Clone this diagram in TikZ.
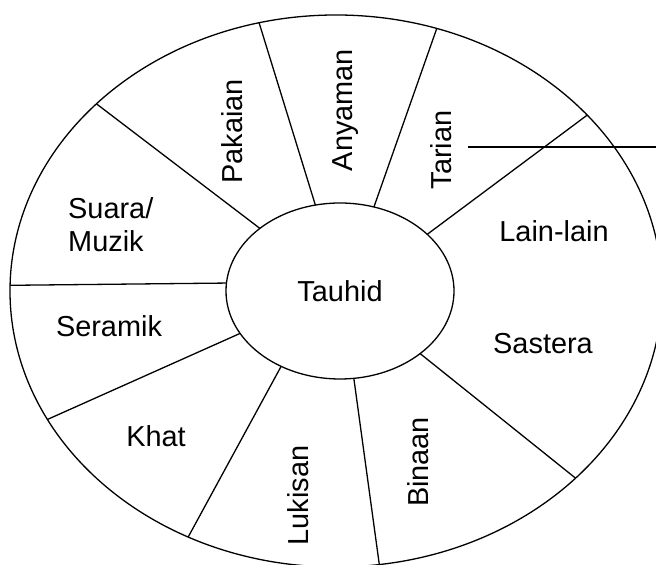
\documentclass[tikz,border=0pt]{standalone}
\usepackage{fontspec}
\setmainfont{Liberation Sans}
\usetikzlibrary{shapes.geometric}
\definecolor{wheelInk}{RGB}{0,0,0}
\begin{document}
\begin{tikzpicture}[x=1bp,y=1bp,
      rim/.style={draw=wheelInk, ellipse, line width=1.3bp,
        inner sep=0pt, outer sep=0pt},
      spoke/.style={draw=wheelInk, line width=1.3bp},
      art/.style={font=\fontsize{29}{33}\selectfont,
        text=wheelInk, inner sep=0pt},
      upright/.style={art, rotate=90}]
      \useasboundingbox (0,0) rectangle (656,565);
      \clip (0,0) rectangle (656,565);

      \node[rim, minimum width=652bp, minimum height=552bp] (wheel)
        at (336,274) {};
      \node[rim, art, minimum width=228bp, minimum height=176bp] (tauhid)
        at (340,274) {Tauhid};

      % spokes: inner angle / outer angle
      \foreach \a/\b in {106.6/106.5, 68.9/69.7, 33.2/35.5,
          322.7/322.5, 279.7/279.5, 232.1/239.5,
          203.1/204.9, 176/179.3, 142/142.3}{
        \draw[spoke] (tauhid.\a) -- (wheel.\b);}

      \node[upright] (pakaian) at (232,433.5) {Pakaian};
      \node[upright] (anyaman) at (346,455) {Anyaman};
      \node[upright] (tarian) at (441,415) {Tarian};
      \node[art] (lainlain) at (554,334) {Lain-lain};
      \node[art] (sastera) at (543,221) {Sastera};
      \node[upright] (binaan) at (418,103) {Binaan};
      \node[upright] (lukisan) at (298,69.5) {Lukisan};
      \node[art] (khat) at (156,129) {Khat};
      \node[art] (seramik) at (109,239) {Seramik};
      \node[art, align=left, anchor=west] (suara) at (68,340.5)
        {Suara/\\Muzik};

      \coordinate (tarianStart) at (468,418);
      \coordinate (tarianEnd) at (656,418);
      \draw[spoke] (tarianStart) -- (tarianEnd);
    \end{tikzpicture}
\end{document}
